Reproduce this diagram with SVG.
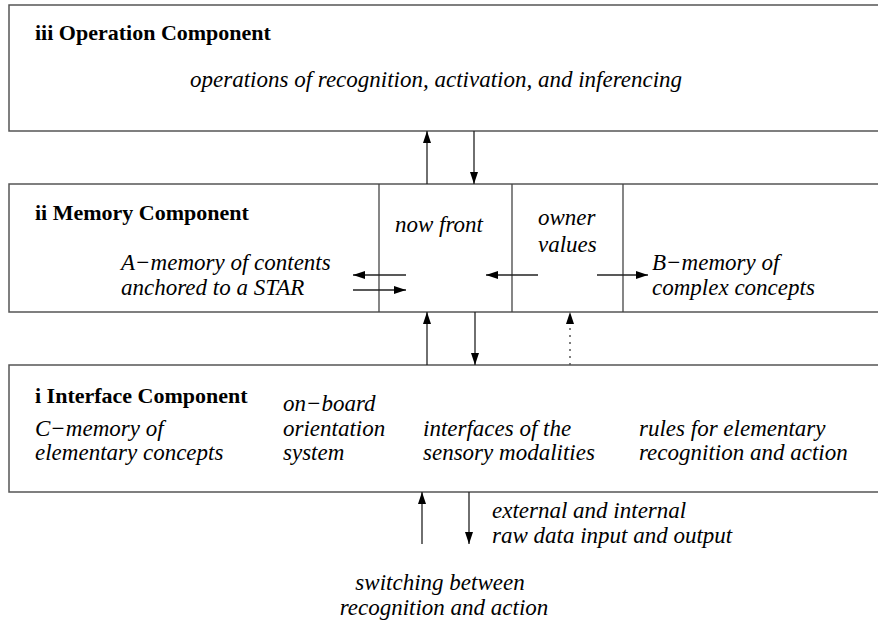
<svg xmlns="http://www.w3.org/2000/svg" width="878" height="621" viewBox="0 0 878 621">
<style>
.box{fill:#fff;stroke:#555;stroke-width:1.5}
.div{stroke:#444;stroke-width:1.3;fill:none}
.c{stroke:#222;stroke-width:1.3;fill:none;marker-end:url(#ah)}
.d{stroke:#555;stroke-width:1.5;fill:none;stroke-dasharray:2,5}
.h{font-family:"Liberation Serif","Times New Roman",serif;font-weight:bold;font-size:22px;fill:#000}
.t{font-family:"Liberation Serif","Times New Roman",serif;font-style:italic;font-size:23px;fill:#000}
</style>
<defs>
<marker id="ah" markerUnits="userSpaceOnUse" markerWidth="12" markerHeight="8" refX="12" refY="4" orient="auto">
<path d="M0,0 L12,4 L0,8 z" fill="#000"/>
</marker>
</defs>
<rect width="878" height="621" fill="#fff"/>
<g id="operation">
<rect class="box" x="9" y="5" width="880" height="126"/>
<text class="h" x="35" y="40">iii Operation Component</text>
<text class="t" x="190" y="87">operations of recognition, activation, and inferencing</text>
</g>
<g id="memory">
<rect class="box" x="9" y="184" width="880" height="128"/>
<line class="div" x1="379" y1="184" x2="379" y2="312"/>
<line class="div" x1="512" y1="184" x2="512" y2="312"/>
<line class="div" x1="623" y1="184" x2="623" y2="312"/>
<text class="h" x="35" y="220">ii Memory Component</text>
<text class="t" x="121" y="270">A−memory of contents</text>
<text class="t" x="121" y="295">anchored to a STAR</text>
<text class="t" x="395" y="232">now front</text>
<text class="t" x="538" y="225">owner</text>
<text class="t" x="538" y="252">values</text>
<text class="t" x="652" y="270">B−memory of</text>
<text class="t" x="652" y="295">complex concepts</text>
</g>
<g id="interface">
<rect class="box" x="9" y="365" width="880" height="127"/>
<text class="h" x="35" y="403">i Interface Component</text>
<text class="t" x="283" y="411">on−board</text>
<text class="t" x="35" y="436">C−memory of</text>
<text class="t" x="35" y="460">elementary concepts</text>
<text class="t" x="283" y="436">orientation</text>
<text class="t" x="283" y="460">system</text>
<text class="t" x="423" y="436">interfaces of the</text>
<text class="t" x="423" y="460">sensory modalities</text>
<text class="t" x="639" y="436">rules for elementary</text>
<text class="t" x="639" y="460">recognition and action</text>
</g>
<g id="external">
<text class="t" x="492" y="518">external and internal</text>
<text class="t" x="492" y="543">raw data input and output</text>
<text class="t" x="440" y="590" text-anchor="middle">switching between</text>
<text class="t" x="444" y="615" text-anchor="middle">recognition and action</text>
</g>
<g id="connectors">
<line class="c" x1="427" y1="184" x2="427" y2="131"/>
<line class="c" x1="474" y1="131" x2="474" y2="184"/>
<line class="c" x1="406" y1="275" x2="353" y2="275"/>
<line class="c" x1="353" y1="290" x2="406" y2="290"/>
<line class="c" x1="538" y1="275" x2="486" y2="275"/>
<line class="c" x1="597" y1="275" x2="648" y2="275"/>
<line class="c" x1="427" y1="365" x2="427" y2="312"/>
<line class="c" x1="475" y1="312" x2="475" y2="365"/>
<line class="d" x1="570" y1="365" x2="570" y2="322"/>
<line stroke="none" x1="570" y1="325" x2="570" y2="312" style="marker-end:url(#ah)"/>
<line class="c" x1="422" y1="544" x2="422" y2="492"/>
<line class="c" x1="469" y1="492" x2="469" y2="544"/>
</g>
</svg>
